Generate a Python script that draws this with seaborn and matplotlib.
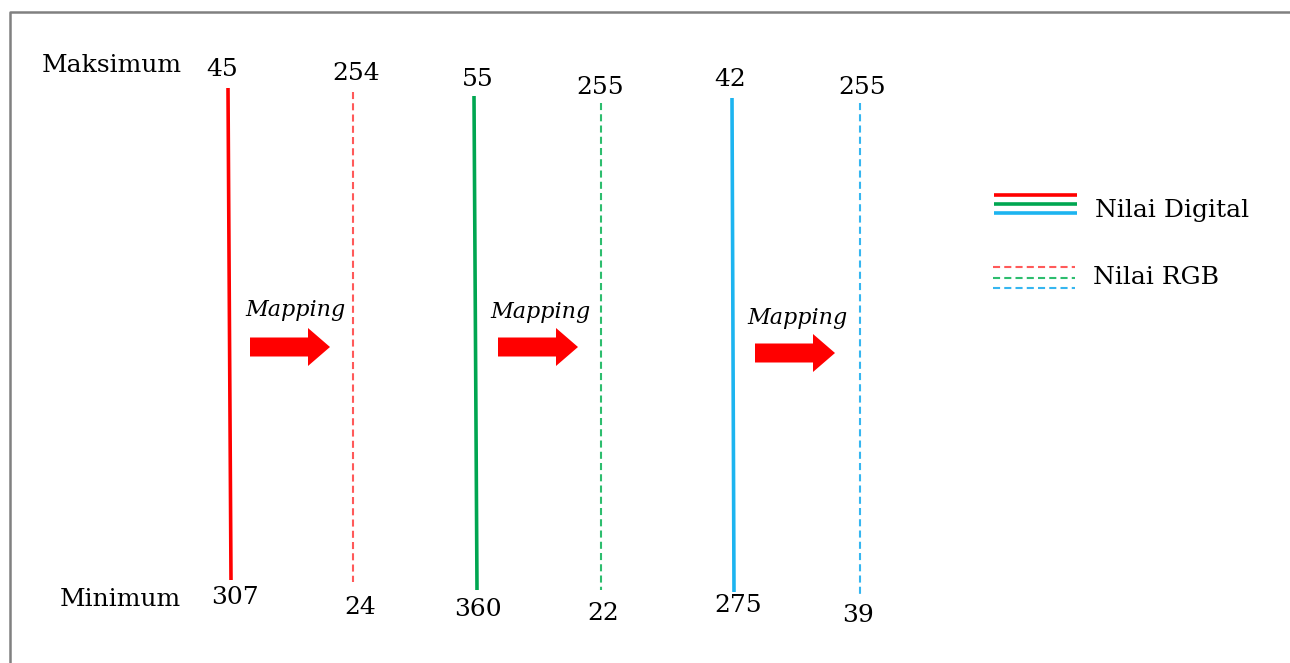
"""
Mapping nilai digital (DN) ke nilai RGB per kanal
"""

import matplotlib.pyplot as plt
import seaborn as sns

# data
channels = ["Merah", "Hijau", "Biru"]
digital_max = [45, 55, 42]
digital_min = [307, 360, 275]
rgb_max = [254, 255, 255]
rgb_min = [24, 22, 39]
solid_colors = ["#ff0000", "#00a651", "#1cb4f0"]
dashed_colors = ["#ff5a5a", "#2dbd6e", "#36b6f0"]
legend_labels = ["Nilai Digital", "Nilai RGB"]

# layout (pixel coordinates of the diagram)
solid_x = [(228, 231), (474, 477), (732, 734)]
solid_y = [(88, 580), (96, 590), (98, 592)]
dashed_x = [353, 601, 860]
dashed_y = [(92, 582), (103, 590), (103, 598)]
max_lbl = [[(222, 70), (356, 73)], [(478, 80), (600, 87)], [(730, 80), (862, 87)]]
min_lbl = [[(235, 598), (360, 607)], [(478, 610), (603, 613)], [(738, 605), (858, 615)]]
mapping_pos = [(295, 310), (540, 312), (797, 318)]
arrow_pos = [(250, 347), (498, 347), (755, 353)]
DASH = (0, (3.4, 2.0))

sns.set_theme(style="white")
plt.rcParams["font.family"] = ["DejaVu Serif"]
plt.rcParams["text.color"] = "black"
plt.rcParams["lines.solid_capstyle"] = "butt"
plt.rcParams["lines.dash_capstyle"] = "butt"

fig = plt.figure(figsize=(12.9, 6.63), dpi=100)
ax = fig.add_axes([0, 0, 1, 1])
ax.set_xlim(0, 1290)
ax.set_ylim(663, 0)
ax.axis("off")

# frame of the original screenshot
ax.plot([10, 10, 1290], [663, 12, 12], color="#808080", lw=1.8)

for i, ch in enumerate(channels):
    (x0, x1), (y0, y1) = solid_x[i], solid_y[i]
    sns.lineplot(x=[x0, x1], y=[y0, y1], color=solid_colors[i], lw=2.6,
                 ax=ax, sort=False, estimator=None)
    (d0, d1) = dashed_y[i]
    sns.lineplot(x=[dashed_x[i], dashed_x[i]], y=[d0, d1], color=dashed_colors[i],
                 lw=1.5, ax=ax, sort=False, estimator=None, linestyle=DASH)

    (ax_, ay), (bx, by) = max_lbl[i]
    ax.text(ax_, ay, str(digital_max[i]), ha="center", va="center", fontsize=18)
    ax.text(bx, by, str(rgb_max[i]), ha="center", va="center", fontsize=18)
    (ax_, ay), (bx, by) = min_lbl[i]
    ax.text(ax_, ay, str(digital_min[i]), ha="center", va="center", fontsize=18)
    ax.text(bx, by, str(rgb_min[i]), ha="center", va="center", fontsize=18)

    mx, my = mapping_pos[i]
    ax.text(mx, my, "Mapping", ha="center", va="center", fontsize=16,
            style="italic")
    px, py = arrow_pos[i]
    ax.arrow(px, py, 80, 0, width=19, head_width=38, head_length=22,
             length_includes_head=True, color="#ff0000", lw=0)

ax.text(112, 66, "Maksimum", ha="center", va="center", fontsize=18)
ax.text(120, 600, "Minimum", ha="center", va="center", fontsize=18)

# legend
for k, yy in enumerate([195, 204, 213]):
    ax.plot([994, 1077], [yy, yy], color=solid_colors[k], lw=2.6)
for k, yy in enumerate([267, 278, 288]):
    ax.plot([993, 1075], [yy, yy], color=dashed_colors[k], lw=1.5, linestyle=DASH)
ax.text(1095, 210, legend_labels[0], ha="left", va="center", fontsize=18)
ax.text(1093, 277, legend_labels[1], ha="left", va="center", fontsize=18)

fig.savefig("out.png", dpi=100)
